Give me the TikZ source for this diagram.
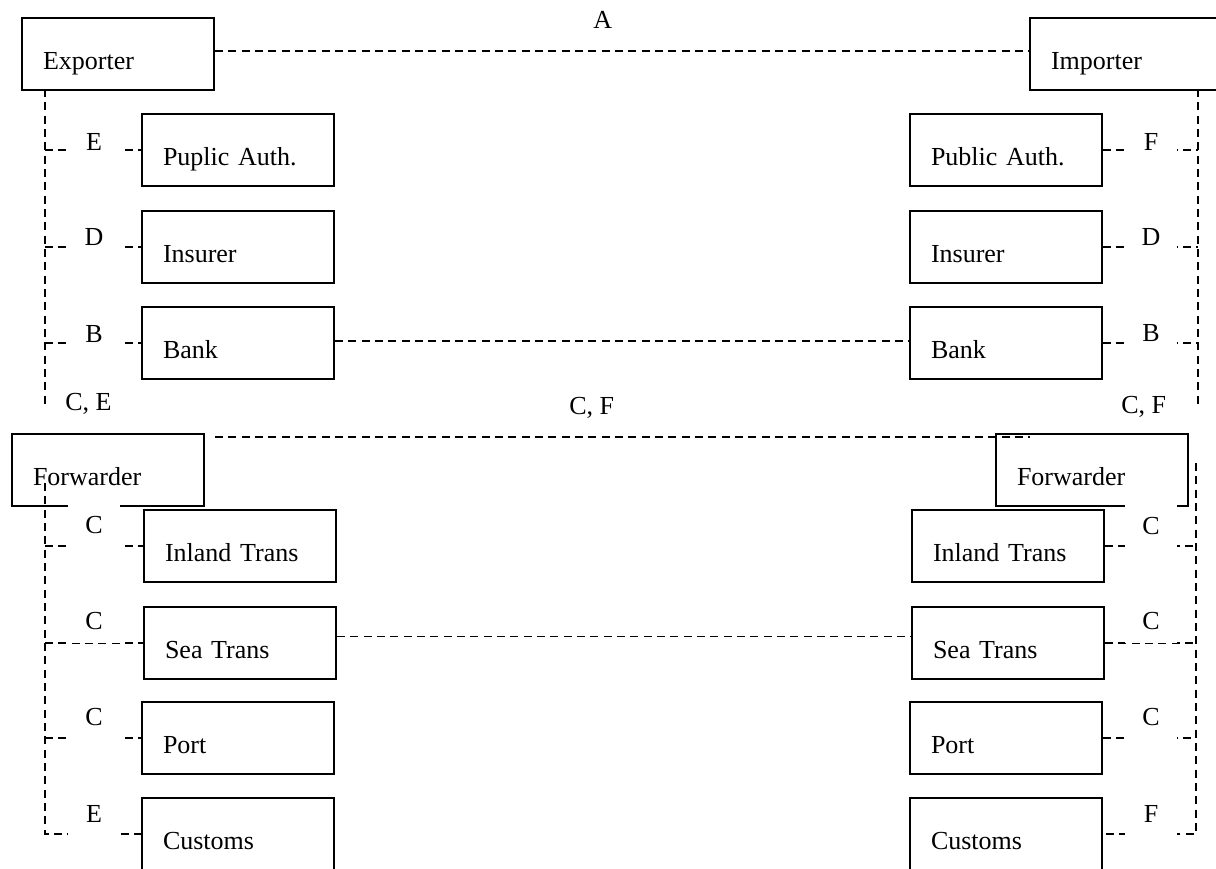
\documentclass[tikz,border=0pt]{standalone}
\usepackage{fontspec}
\setmainfont{Liberation Serif}
\begin{document}
\begin{tikzpicture}[x=0.75pt,y=-0.75pt,
  every node/.style={font=\fontsize{19.5pt}{23pt}\selectfont},
  box/.style={draw, line width=1.5pt, anchor=north west, minimum width=144pt, minimum height=54pt,
    inner xsep=15.75pt, inner ysep=0pt, text width=112.5pt, align=left,
    text height=38.25pt, text depth=15.75pt},
  dl/.style={line width=1.2pt, dash pattern=on 6pt off 4pt},
  lab/.style={fill=white, inner sep=0pt, minimum width=39pt, text height=23.25pt, text depth=10.5pt, anchor=base},
  txt/.style={inner sep=0pt, anchor=base west}]
\useasboundingbox (0,0) rectangle (1216,868);
% boxes
\node[box] (exp) at (21,17) {Exporter};
\node[box] (imp) at (1029,17) {Importer};
\node[box] (pa1) at (141,113) {Puplic Auth.};
\node[box] (pa2) at (909,113) {Public Auth.};
\node[box] (ins1) at (141,210) {Insurer};
\node[box] (ins2) at (909,210) {Insurer};
\node[box] (bank1) at (141,306) {Bank};
\node[box] (bank2) at (909,306) {Bank};
\node[box] (fw1) at (11,433) {Forwarder};
\node[box] (fw2) at (995,433) {Forwarder};
\node[box] (inl1) at (143,509) {Inland Trans};
\node[box] (inl2) at (911,509) {Inland Trans};
\node[box] (sea1) at (143,606) {Sea Trans};
\node[box] (sea2) at (911,606) {Sea Trans};
\node[box] (port1) at (141,701) {Port};
\node[box] (port2) at (909,701) {Port};
\node[box] (cus1) at (141,797) {Customs};
\node[box] (cus2) at (909,797) {Customs};
% spine coordinates
\coordinate (lu1) at (45,89);
\coordinate (lu2) at (45,406);
\coordinate (ru1) at (1198,89);
\coordinate (ru2) at (1198,404);
\coordinate (ll1) at (45,483);
\coordinate (rl1) at (1196,463);
% horizontal links
\draw[dl] ([yshift=2.25pt]exp.east) -- ([yshift=2.25pt]imp.west);
\draw[dl] ([yshift=1.5pt]bank1.east) -- ([yshift=1.5pt]bank2.west);
\draw[dl] ([yshift=4.9pt]sea1.east) -- ([yshift=4.9pt]sea2.west);
\draw[dl] ([shift={(10,4)}]fw1.north east) -- ([shift={(35,4)}]fw2.north west);
% upper spines
\draw[dl] (lu1) -- (lu2);
\draw[dl] (ru1) -- (ru2);
\foreach \n in {pa1,ins1,bank1} \draw[dl] (\n.west -| lu1) -- (\n.west);
\foreach \n in {pa2,ins2,bank2} \draw[dl] (\n.east) -- (\n.east -| ru1);
% lower spines
\draw[dl] (ll1) |- (cus1.west);
\draw[dl] (rl1) |- (cus2.east);
\foreach \n in {inl1,sea1,port1} \draw[dl] (\n.west -| ll1) -- (\n.west);
\foreach \n in {inl2,sea2,port2} \draw[dl] (\n.east) -- (\n.east -| rl1);
% labels on branches
\node[lab] (le1) at (94,150) {E};
\node[lab] (ld1) at (94,245) {D};
\node[lab] (lb1) at (94,342) {B};
\node[lab] (lc1) at (94,533) {C};
\node[lab] (lc2) at (94,629) {C};
\node[lab] (lc3) at (94,725) {C};
\node[lab] (le2) at (94,822) {E};
\node[lab] (rf1) at (1151,150) {F};
\node[lab] (rd1) at (1151,245) {D};
\node[lab] (rb1) at (1151,341) {B};
\node[lab] (rc1) at (1151,534) {C};
\node[lab] (rc2) at (1151,629) {C};
\node[lab] (rc3) at (1151,725) {C};
\node[lab] (rf2) at (1151,822) {F};
% free labels
\node[txt] (la) at (593,28) {A};
\node[txt] (lce) at (65,410) {C, E};
\node[txt] (lcf) at (569,414) {C, F};
\node[txt] (rcf) at (1121,413) {C, F};
\end{tikzpicture}
\end{document}
